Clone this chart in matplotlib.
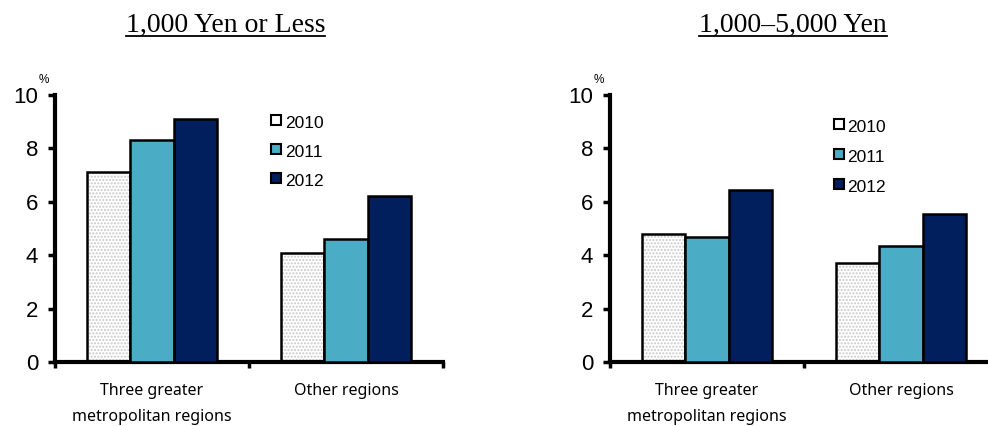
import numpy as np
import matplotlib
matplotlib.use('Agg')
import matplotlib.pyplot as plt

# Values (%)
regions = ['Three greater\nmetropolitan regions', 'Other regions']
years = ['2010', '2011', '2012']
titles = ['1,000 Yen or Less', '1,000\u20135,000 Yen']
low_2010 = [7.1, 4.1]
low_2011 = [8.3, 4.6]
low_2012 = [9.1, 6.2]
mid_2010 = [4.8, 3.7]
mid_2011 = [4.7, 4.35]
mid_2012 = [6.45, 5.55]

colors = ['white', '#4BACC6', '#001F5C']
panels = [
    [low_2010, low_2011, low_2012],
    [mid_2010, mid_2011, mid_2012],
]

fig = plt.figure(figsize=(9.88, 4.26), dpi=100)
axes = [fig.add_axes([0.0557, 0.150, 0.3927, 0.627]),
        fig.add_axes([0.6174, 0.150, 0.3927, 0.627])]
# legend anchor (axes fraction) and title centre (figure fraction)
legend_xy = [(0.57, 0.906, 0.109), (0.59, 0.89, 0.112)]
title_x = [0.228, 0.803]

width = 0.222
x = np.arange(len(regions)) + 0.5

for ax, series, title, lxy, tx in zip(axes, panels, titles, legend_xy, title_x):
    for i, (vals, col) in enumerate(zip(series, colors)):
        pos = x + (i - 1) * width
        if i == 0:
            # dotted fill, then the black outline on top
            ax.bar(pos, vals, width, color='white', edgecolor='#c8c8c8',
                   hatch='.....', linewidth=0, zorder=2)
            ax.bar(pos, vals, width, fill=False, edgecolor='black',
                   linewidth=1.8, zorder=3)
        else:
            ax.bar(pos, vals, width, color=col, edgecolor='black',
                   linewidth=1.8, zorder=3)
    ax.set_xlim(0, 2)
    ax.set_ylim(0, 10)
    ax.set_yticks([0, 2, 4, 6, 8, 10])
    ax.set_xticks([0, 1, 2])
    ax.set_xticklabels([])
    ax.set_xticks(x, minor=True)
    ax.set_xticklabels(regions, minor=True, fontsize=11.5,
                       family='Noto Sans', linespacing=1.8)
    ax.tick_params(axis='x', which='minor', length=0, pad=15)
    ax.tick_params(axis='x', which='major', length=4, width=2.5,
                   direction='out')
    ax.tick_params(axis='y', length=5, width=2.5, direction='out',
                   labelsize=16, pad=7)
    for lab in ax.get_yticklabels():
        lab.set_family('Liberation Sans')
    for s in ['top', 'right']:
        ax.spines[s].set_visible(False)
    for s in ['left', 'bottom']:
        ax.spines[s].set_linewidth(3)
    ax.text(-0.06, 10.35, '%', fontsize=8.5, family='Liberation Sans',
            ha='center', va='bottom', clip_on=False)

    # legend drawn as markers + text
    lx, ly, step = lxy
    for k, (yr, col) in enumerate(zip(years, colors)):
        yy = ly - k * step
        ax.plot([lx], [yy], marker='s', markersize=7.5,
                markerfacecolor=col, markeredgecolor='black',
                markeredgewidth=1.5, transform=ax.transAxes, clip_on=False)
        ax.text(lx + 0.022, yy - 0.012, yr, transform=ax.transAxes,
                fontsize=12.5, family='Liberation Sans', va='center',
                ha='left')

    # underlined title
    fig.text(tx, 0.925, title, fontsize=20, family='Liberation Serif',
             ha='center', va='baseline')

fig.canvas.draw()
r = fig.canvas.get_renderer()
for t in fig.texts:
    bb = t.get_window_extent(r).transformed(fig.transFigure.inverted())
    fig.add_artist(plt.Line2D([bb.x0, bb.x1], [0.915, 0.915],
                              color='black', linewidth=1.3,
                              transform=fig.transFigure))

fig.savefig('out.png', dpi=100)
